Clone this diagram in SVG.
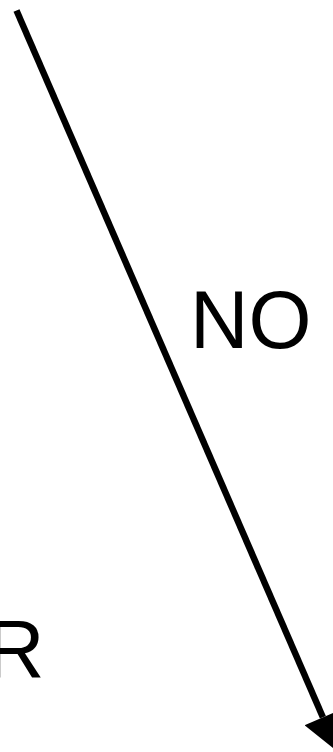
<svg xmlns="http://www.w3.org/2000/svg" width="333" height="752" viewBox="0 0 333 752">
<style>
.lbl{font-family:"Liberation Sans",Arial,sans-serif;font-size:81px;fill:#000}
.edge{stroke:#000;stroke-width:6.5;fill:none}
</style>
<defs>
<marker id="ah" markerUnits="userSpaceOnUse" markerWidth="40" markerHeight="40" viewBox="0 0 37 39" refX="0" refY="19.5" orient="auto">
<path d="M0,0 L37,19.5 L0,39 Z" fill="#000"/>
</marker>
</defs>
<rect width="333" height="752" fill="#fff"/>
<g id="connectors">
<path class="edge" d="M16.5,10.5 L322.9,717.3" marker-end="url(#ah)"/>
</g>
<g id="label-no">
<text class="lbl" x="190" y="348">NO S</text>
</g>
<g id="label-r">
<text class="lbl" x="-14" y="677">R</text>
</g>
</svg>
